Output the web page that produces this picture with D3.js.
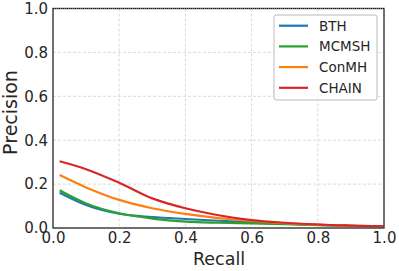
<!DOCTYPE html>
<html lang="en">
<head>
<meta charset="UTF-8">
<title>Precision-Recall</title>
<script src="https://d3js.org/d3.v7.min.js"></script>
<style>
  body { margin: 0; background: #fff; }
  svg, svg text { font-family: "DejaVu Sans", sans-serif; }
  .tick text { font-size: 15px; fill: #262626; }
</style>
</head>
<body>
<svg width="399" height="271"></svg>
<script>
// recall points and precision for each method
const recall = [0.02, 0.1, 0.2, 0.3, 0.4, 0.5, 0.6, 0.7, 0.8, 0.9, 1.0];
const bth   = [0.161, 0.105, 0.065, 0.050, 0.041, 0.033, 0.027, 0.020, 0.014, 0.010, 0.006];
const mcmsh = [0.172, 0.112, 0.067, 0.043, 0.029, 0.024, 0.021, 0.017, 0.013, 0.009, 0.006];
const conmh = [0.241, 0.185, 0.128, 0.090, 0.064, 0.045, 0.032, 0.022, 0.015, 0.010, 0.007];
const chain = [0.304, 0.268, 0.206, 0.135, 0.090, 0.058, 0.036, 0.024, 0.016, 0.011, 0.007];
const names = ["BTH", "MCMSH", "ConMH", "CHAIN"];
const colors = ["#1f77b4", "#2ca02c", "#ff7f0e", "#d62728"];
const ticks = [0, 0.2, 0.4, 0.6, 0.8, 1.0];

const svg = d3.select("svg");
const L = 53, R = 384, T = 8.5, B = 228;

const x = d3.scaleLinear().domain([0, 1]).range([L, R]);
const y = d3.scaleLinear().domain([0, 1]).range([B, T]);

// grid
const grid = svg.append("g");
grid.selectAll(".gx").data(ticks).enter().append("line")
  .attr("x1", d => x(d)).attr("x2", d => x(d)).attr("y1", T).attr("y2", B)
  .attr("stroke", "#cfcfcf").attr("stroke-width", 0.8).attr("stroke-dasharray", "3,2");
grid.selectAll(".gy").data(ticks).enter().append("line")
  .attr("y1", d => y(d)).attr("y2", d => y(d)).attr("x1", L).attr("x2", R)
  .attr("stroke", "#cfcfcf").attr("stroke-width", 0.8).attr("stroke-dasharray", "3,2");

// axes (labels only)
const fmt = d3.format(".1f");
const xa = svg.append("g").attr("transform", `translate(0,${B})`)
  .call(d3.axisBottom(x).tickValues(ticks).tickFormat(fmt).tickSize(0).tickPadding(4));
const ya = svg.append("g").attr("transform", `translate(${L},0)`)
  .call(d3.axisLeft(y).tickValues(ticks).tickFormat(fmt).tickSize(0).tickPadding(5));
[xa, ya].forEach(a => {
  a.select(".domain").remove();
  a.attr("font-family", "DejaVu Sans").attr("font-size", 15);
});

// curves
const series = [bth, mcmsh, conmh, chain];
const line = d3.line()
  .x((d, i) => x(recall[i]))
  .y(d => y(d))
  .curve(d3.curveMonotoneX);
svg.append("g").selectAll("path").data(series).enter().append("path")
  .attr("d", d => line(d))
  .attr("fill", "none")
  .attr("stroke", (d, i) => colors[i])
  .attr("stroke-width", 2.2);

// frame
svg.append("rect").attr("x", L).attr("y", T).attr("width", R - L).attr("height", B - T)
  .attr("fill", "none").attr("stroke", "#777").attr("stroke-width", 1.6);
svg.append("rect").attr("x", L).attr("y", T).attr("width", R - L).attr("height", B - T)
  .attr("fill", "none").attr("stroke", "#111").attr("stroke-width", 1).attr("stroke-dasharray", "1,1");

// legend
const lg = svg.append("g");
lg.append("rect").attr("x", 274).attr("y", 15).attr("width", 103).attr("height", 85)
  .attr("rx", 2).attr("fill", "#fff").attr("fill-opacity", 0.9)
  .attr("stroke", "#aaa").attr("stroke-width", 0.8);
names.forEach((n, i) => {
  const cy = 25.7 + i * 20.7;
  lg.append("line").attr("x1", 279).attr("x2", 308).attr("y1", cy).attr("y2", cy)
    .attr("stroke", colors[i]).attr("stroke-width", 2.2);
  lg.append("text").attr("x", 319).attr("y", cy).attr("dy", "0.36em")
    .attr("font-size", "13.5px").attr("fill", "#262626").text(n);
});

// axis titles
svg.append("text").attr("x", 219).attr("y", 265).attr("text-anchor", "middle")
  .attr("font-size", "17.5px").attr("fill", "#262626").text("Recall");
svg.append("text").attr("transform", "translate(17,112.5) rotate(-90)")
  .attr("text-anchor", "middle").attr("font-size", "19px").attr("fill", "#262626").text("Precision");
</script>
</body>
</html>
